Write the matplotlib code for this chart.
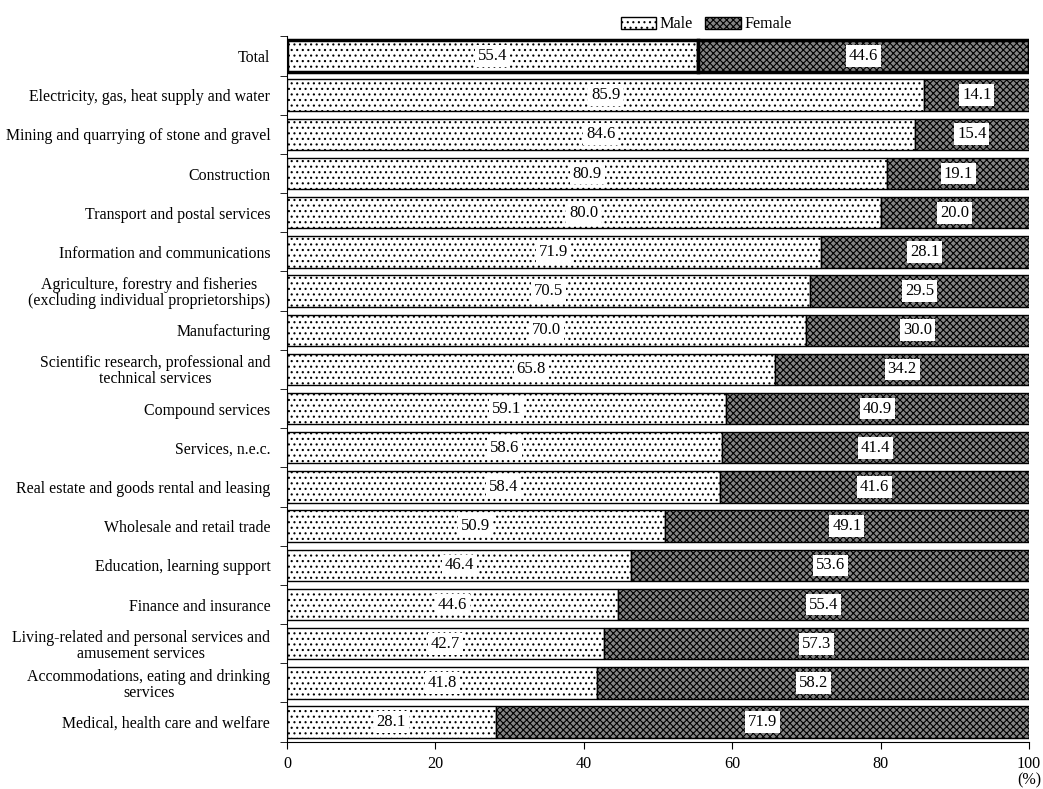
import matplotlib
matplotlib.use("Agg")
import matplotlib.pyplot as plt
from matplotlib.patches import Patch
import numpy as np

plt.rcParams["font.family"] = ["Liberation Serif", "DejaVu Serif"]
plt.rcParams["hatch.linewidth"] = 0.8

categories = [
    "Total",
    "Electricity, gas, heat supply and water",
    "Mining and quarrying of stone and gravel",
    "Construction",
    "Transport and postal services",
    "Information and communications",
    "Agriculture, forestry and fisheries\n(excluding individual proprietorships)",
    "Manufacturing",
    "Scientific research, professional and\ntechnical services",
    "Compound services",
    "Services, n.e.c.",
    "Real estate and goods rental and leasing",
    "Wholesale and retail trade",
    "Education, learning support",
    "Finance and insurance",
    "Living-related and personal services and\namusement services",
    "Accommodations, eating and drinking\nservices",
    "Medical, health care and welfare",
]
male = [55.4, 85.9, 84.6, 80.9, 80.0, 71.9, 70.5, 70.0, 65.8, 59.1, 58.6,
        58.4, 50.9, 46.4, 44.6, 42.7, 41.8, 28.1]
female = [44.6, 14.1, 15.4, 19.1, 20.0, 28.1, 29.5, 30.0, 34.2, 40.9, 41.4,
          41.6, 49.1, 53.6, 55.4, 57.3, 58.2, 71.9]

male = np.array(male)
female = np.array(female)
y = np.arange(len(categories))

male_style = dict(facecolor="white", edgecolor="black", hatch="...")
female_style = dict(facecolor="#858585", edgecolor="black", hatch="xxxxx")

fig = plt.figure(figsize=(10.43, 7.89), dpi=100)
ax = fig.add_axes([0.2752, 0.060, 0.7114, 0.8939])

lw = [2.5] + [1.0] * (len(categories) - 1)
ax.barh(y, male, height=0.8, linewidth=lw, **male_style)
ax.barh(y, female, left=male, height=0.8, linewidth=lw, **female_style)

box = dict(facecolor="white", edgecolor="none", pad=2)
for i in range(len(categories)):
    ax.text(male[i] / 2, y[i], f"{male[i]:.1f}", ha="center", va="center",
            fontsize=12, bbox=box)
    ax.text(male[i] + female[i] / 2, y[i], f"{female[i]:.1f}", ha="center",
            va="center", fontsize=12, bbox=box)

ax.set_xlim(0, 100)
ax.set_ylim(len(categories) - 0.5, -0.5)
ax.set_xticks(np.arange(0, 101, 20))
ax.set_yticks(y)
ax.set_yticklabels(categories, fontsize=11.4, multialignment="center",
                   linespacing=1.0)
ax.set_yticks(np.arange(-0.5, len(categories), 1), minor=True)
ax.tick_params(axis="y", which="major", length=0, pad=12)
ax.tick_params(axis="y", which="minor", length=5, direction="out")
ax.tick_params(axis="x", length=5, direction="out", labelsize=11.6, pad=5)
for s in ["top", "right"]:
    ax.spines[s].set_visible(False)

fig.text(0.987, 0.0114, "(%)", ha="center", va="center", fontsize=11.6)
handles = [Patch(linewidth=1.0, label="Male", **male_style),
           Patch(linewidth=1.0, label="Female", **female_style)]
fig.legend(handles=handles, loc="center", bbox_to_anchor=(0.677, 0.969),
           ncol=2, frameon=False, fontsize=11.6, handlelength=2.2,
           handleheight=0.8, handletextpad=0.2, columnspacing=0.8)

fig.savefig("out.png", dpi=100)
